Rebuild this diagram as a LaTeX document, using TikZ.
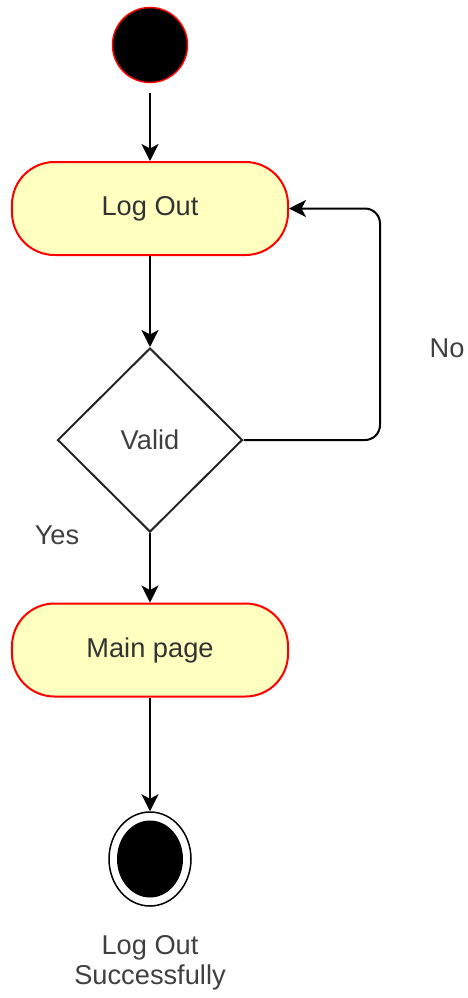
\documentclass[tikz,border=0pt]{standalone}
\usepackage{fontspec}
\setmainfont{Liberation Sans}
\usetikzlibrary{arrows.meta, shapes.geometric, positioning}

\begin{document}
\begin{tikzpicture}
                \tikzstyle{activity} = [shape=rectangle, rounded corners=0.85cm, fill={rgb,255:red,255;green,255;blue,192}, draw=red, line width=0.4mm, minimum width=5.52cm, minimum height=1.86cm, text=black!80, font=\fontsize{15.5}{18}\selectfont];
                \tikzstyle{decision} = [shape=diamond, draw=black!85, line width=0.4mm, minimum width=3.7cm, minimum height=3.68cm, inner sep=0pt, text=black!75, font=\fontsize{15.5}{18}\selectfont];
                \tikzstyle{label} = [text=black!75, font=\fontsize{15.5}{18}\selectfont, align=center];

                \useasboundingbox (0,0) rectangle (9.36,-19.96);

                \node[shape=circle, fill=black, draw=red, line width=0.3mm, minimum size=1.5cm](S) at (3.0,-0.9) {};
                \node[activity](L) at (3.0,-4.17) {Log Out};
                \node[decision](V) at (3.0,-8.8) {Valid};
                \node[activity](M) at (3.0,-13.0) {Main page};
                \node[shape=ellipse, draw=black, line width=0.3mm, minimum width=1.64cm, minimum height=1.88cm, inner sep=0pt,
                      path picture={\fill[black] (path picture bounding box.center) ellipse (0.66cm and 0.77cm);}](E) at (3.0,-17.18) {};

                \node[label](EL) at (3.0,-19.26) {Log Out\\[-1pt]Successfully};
                \node[label](No) at (8.94,-6.96) {No};
                \node[label](Yes) at (1.14,-10.7) {Yes};

                \coordinate (C) at (7.6,-4.17);

                \draw[-{Stealth[length=3.4mm,width=3.4mm,inset=0.9mm]}, line width=0.4mm]
                    (S) edge[shorten <=0.2cm] (L)
                    (L) edge (V)
                    (V) edge (M)
                    (M) edge (E)
                ;
                \draw[-{Stealth[length=3.4mm,width=3.4mm,inset=0.9mm]}, line width=0.4mm, rounded corners=0.3cm]
                    (V.east) -| (C) -- (L.east);
            \end{tikzpicture}
\end{document}
